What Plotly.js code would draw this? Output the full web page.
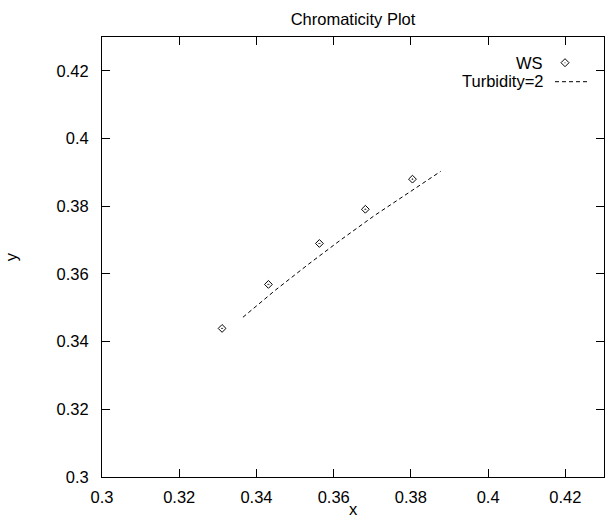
<!DOCTYPE html>
<html>
<head>
<meta charset="utf-8">
<script src="https://cdn.plot.ly/plotly-3.0.1.min.js"></script>
<style>html,body{margin:0;padding:0;background:#fff;}#plot{width:605px;height:518px;}</style>
</head>
<body>
<div id="plot"></div>
<script>
// Measured chromaticity points (WS)
var wsX = [0.3311, 0.3431, 0.3563, 0.3682, 0.3804];
var wsY = [0.3439, 0.3569, 0.3690, 0.3791, 0.3880];
// Turbidity=2 curve
var turbX = [0.3365, 0.3450, 0.3535, 0.3620, 0.3705, 0.3790, 0.3877];
var turbY = [0.3472, 0.3553, 0.3629, 0.3702, 0.3772, 0.3838, 0.3903];
var tickVals = [0.3, 0.32, 0.34, 0.36, 0.38, 0.4, 0.42];
var tickText = ['0.3', '0.32', '0.34', '0.36', '0.38', '0.4', '0.42'];
var seriesNames = ['WS', 'Turbidity=2'];

var FONT = 'Liberation Sans, Arial, sans-serif';
var FS = 16.5;

var traces = [
  {x: wsX, y: wsY, mode: 'markers', type: 'scatter', name: seriesNames[0],
   marker: {symbol: 'diamond-open-dot', size: 6, color: '#000', line: {width: 1, color: '#000'}}},
  {x: turbX, y: turbY, mode: 'lines', type: 'scatter', name: seriesNames[1],
   line: {color: '#000', width: 1, dash: '4px,3px'}}
];

function axis(titleText, standoff, labelStandoff) {
  return {
    range: [0.3, 0.43], tickvals: tickVals, ticktext: tickText,
    ticks: 'inside', ticklen: 8, tickwidth: 1, tickcolor: '#000',
    showline: true, linecolor: '#000', linewidth: 1, mirror: 'ticks',
    showgrid: false, zeroline: false, ticklabelstandoff: labelStandoff,
    tickfont: {family: FONT, size: FS, color: '#000'},
    title: {text: titleText, font: {family: FONT, size: FS, color: '#000'}, standoff: standoff}
  };
}

var layout = {
  width: 605, height: 518,
  margin: {l: 102, r: 1, t: 37, b: 41},
  paper_bgcolor: '#fff', plot_bgcolor: '#fff',
  showlegend: false,
  title: {text: 'Chromaticity Plot', font: {family: FONT, size: FS, color: '#000'},
          x: 0.5, xref: 'paper', y: 1 - 19/518, yref: 'container', yanchor: 'middle'},
  xaxis: axis('x', 8, 5),
  yaxis: axis('y', 34, 9),
  annotations: [
    {xref: 'paper', yref: 'paper', x: (545 - 102) / 502, y: (477 - 62.7) / 440, xanchor: 'right', yanchor: 'middle',
     text: seriesNames[0], showarrow: false, font: {family: FONT, size: FS, color: '#000'}},
    {xref: 'paper', yref: 'paper', x: (545 - 102) / 502, y: (477 - 80.7) / 440, xanchor: 'right', yanchor: 'middle',
     text: seriesNames[1], showarrow: false, font: {family: FONT, size: FS, color: '#000'}}
  ],
  shapes: [
    {type: 'line', xref: 'paper', yref: 'paper', x0: (555 - 102) / 502, x1: (587 - 102) / 502,
     y0: (477 - 81.7) / 440, y1: (477 - 81.7) / 440, line: {color: '#000', width: 1, dash: '4px,3px'}},
    {type: 'path', xref: 'paper', yref: 'paper', xsizemode: 'pixel', ysizemode: 'pixel',
     xanchor: (565 - 102) / 502, yanchor: (477 - 62.7) / 440,
     path: 'M 0,4 L 4,0 L 0,-4 L -4,0 Z', line: {color: '#000', width: 1}},
    {type: 'circle', xref: 'paper', yref: 'paper', xsizemode: 'pixel', ysizemode: 'pixel',
     xanchor: (565 - 102) / 502, yanchor: (477 - 62.7) / 440,
     x0: -0.5, x1: 0.5, y0: -0.5, y1: 0.5, fillcolor: '#000', line: {width: 0}}
  ]
};

Plotly.newPlot('plot', traces, layout, {displayModeBar: false, staticPlot: true});
</script>
</body>
</html>
